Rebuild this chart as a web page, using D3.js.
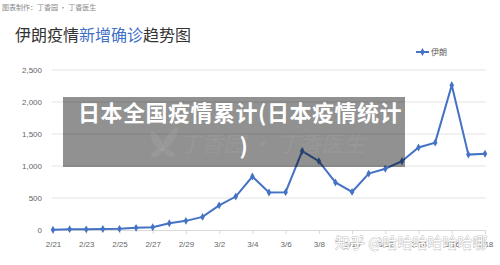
<!DOCTYPE html>
<html lang="zh">
<head>
    <meta charset="UTF-8">
    <title>伊朗疫情新增确诊趋势图</title>
    <script src="https://d3js.org/d3.v7.min.js"></script>
    <style>
        body { margin: 0; background: #fff; }
        svg { display: block; font-family: "Noto Sans CJK SC", "Noto Sans", sans-serif; }
        .grid line { stroke: #e3e3e3; stroke-width: 1px; }
        .tick text { fill: #666; font-size: 8px; }
    </style>
</head>
<body>
    <svg width="500" height="265"></svg>

    <script>
        // 日期与新增确诊数
        const dates = ["2/21", "2/22", "2/23", "2/24", "2/25", "2/26", "2/27", "2/28", "2/29",
            "3/1", "3/2", "3/3", "3/4", "3/5", "3/6", "3/7", "3/8", "3/9", "3/10",
            "3/11", "3/12", "3/13", "3/14", "3/15", "3/16", "3/17", "3/18"];
        const iranNew = [5, 13, 10, 15, 18, 34, 44, 106, 143,
            205, 385, 523, 835, 586, 591, 1234, 1076, 743, 595,
            881, 958, 1075, 1289, 1365, 2262, 1178, 1192];
        const yTicks = [0, 500, 1000, 1500, 2000, 2500];
        const xLabels = dates.filter((d, i) => i % 2 === 0);

        const svg = d3.select("svg");
        const blue = "#4472c4";

        const x = d3.scalePoint().domain(dates).range([53, 485]);
        const y = d3.scaleLinear().domain([0, 2500]).range([230, 70]);

        // 顶部小字和标题
        svg.append("text")
            .attr("x", 2).attr("y", 10)
            .attr("font-size", 7).attr("fill", "#888")
            .text("图表制作：丁香园 · 丁香医生");

        const title = svg.append("text")
            .attr("x", 15).attr("y", 41)
            .attr("font-size", 16).attr("fill", "#333");
        title.append("tspan").text("伊朗疫情");
        title.append("tspan").attr("fill", "#3f6fc6").text("新增确诊");
        title.append("tspan").text("趋势图");

        // 网格线和y轴
        svg.append("g")
            .attr("class", "grid")
            .selectAll("line")
            .data(yTicks.slice(1))
            .enter().append("line")
            .attr("x1", 52).attr("x2", 486)
            .attr("y1", d => y(d)).attr("y2", d => y(d));

        const yAxis = svg.append("g")
            .attr("transform", "translate(42,0)")
            .call(d3.axisLeft(y).tickValues(yTicks).tickSize(0).tickPadding(0)
                .tickFormat(d3.format(",")));
        yAxis.select(".domain").remove();

        const xAxis = svg.append("g")
            .attr("transform", "translate(0,230)")
            .call(d3.axisBottom(x).tickValues(xLabels).tickSize(4).tickSizeOuter(0).tickPadding(7));
        xAxis.select(".domain").attr("stroke", "#d9d9d9").attr("d", "M52,0.5H486");
        xAxis.selectAll(".tick line").attr("stroke", "#d9d9d9");

        // 折线
        const line = d3.line()
            .x((d, i) => x(dates[i]))
            .y(d => y(d));

        svg.append("path")
            .datum(iranNew)
            .attr("fill", "none")
            .attr("stroke", blue)
            .attr("stroke-width", 2)
            .attr("d", line);

        svg.append("g")
            .selectAll("path")
            .data(iranNew)
            .enter().append("path")
            .attr("d", d3.symbol().type(d3.symbolDiamond).size(18))
            .attr("fill", blue)
            .attr("transform", (d, i) => `translate(${x(dates[i])},${y(d)})`);

        // 图例
        const legend = svg.append("g").attr("transform", "translate(416,52)");
        legend.append("line").attr("x1", 0).attr("x2", 13).attr("stroke", blue).attr("stroke-width", 2);
        legend.append("path").attr("d", d3.symbol().type(d3.symbolDiamond).size(18))
            .attr("fill", blue).attr("transform", "translate(6.5,0)");
        legend.append("text").attr("x", 15).attr("y", 3)
            .attr("font-size", 8).attr("fill", "#555").text("伊朗");

        // 半透明遮罩和标题文字
        svg.append("rect")
            .attr("x", 63).attr("y", 97)
            .attr("width", 342).attr("height", 70)
            .attr("fill", "rgba(0,0,0,0.43)");

        // 遮罩里的淡水印（叶子 + 文字）
        const leaf = svg.append("g")
            .attr("transform", "translate(163,145)")
            .attr("fill", "rgba(255,255,255,0.07)");
        leaf.append("ellipse").attr("rx", 4).attr("ry", 11).attr("transform", "translate(-6,-4) rotate(-30)");
        leaf.append("ellipse").attr("rx", 4).attr("ry", 13).attr("transform", "translate(7,-6) rotate(35)");
        leaf.append("ellipse").attr("rx", 3).attr("ry", 7).attr("transform", "translate(-6,8) rotate(60)");
        leaf.append("ellipse").attr("rx", 3).attr("ry", 7).attr("transform", "translate(6,8) rotate(-60)");

        svg.append("text")
            .attr("x", 272).attr("y", 152)
            .attr("text-anchor", "middle")
            .attr("font-size", 22).attr("font-style", "italic")
            .attr("fill", "rgba(255,255,255,0.07)")
            .text("丁香园 · 丁香医生");

        const overlay = svg.append("text")
            .attr("text-anchor", "middle")
            .attr("font-size", 22).attr("font-weight", "bold")
            .attr("letter-spacing", 0.5)
            .attr("fill", "#fff");
        overlay.append("tspan").attr("x", 240).attr("y", 121).text("日本全国疫情累计(日本疫情统计");
        overlay.append("tspan").attr("x", 244).attr("y", 154).text(")");

        // 右下角水印
        svg.append("text")
            .attr("x", 335).attr("y", 248)
            .attr("font-size", 15)
            .attr("fill", "#fff")
            .attr("stroke", "#999").attr("stroke-width", 0.6)
            .attr("paint-order", "stroke")
            .text("知乎 @哈哈哈哈哈哈哪");
    </script>
</body>
</html>
